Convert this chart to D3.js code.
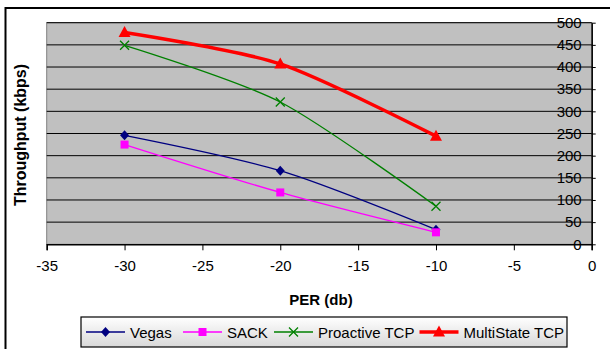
<!DOCTYPE html>
<html><head><meta charset="utf-8">
<script src="https://cdn.jsdelivr.net/npm/d3@7"></script>
<style>html,body{margin:0;padding:0;background:#fff;}svg{display:block;font-family:"Liberation Sans",Arial,sans-serif;}</style>
</head><body>
<svg id="c" width="610" height="349"></svg>
<script>
const xValues = [-30, -20, -10];
const vegas = [246, 166, 33];
const sack = [225, 117, 27];
const proactive = [449, 321, 86];
const multistate = [478, 407, 244];
const xTicks = [-35, -30, -25, -20, -15, -10, -5, 0];
const yTicks = [0, 50, 100, 150, 200, 250, 300, 350, 400, 450, 500];
const seriesNames = ["Vegas", "SACK", "Proactive TCP", "MultiState TCP"];

const series = [
  {name: seriesNames[0], values: vegas, color: "#000080", width: 1.3, marker: "diamond"},
  {name: seriesNames[1], values: sack, color: "#FF00FF", width: 1.3, marker: "square"},
  {name: seriesNames[2], values: proactive, color: "#008000", width: 1.3, marker: "x"},
  {name: seriesNames[3], values: multistate, color: "#FF0000", width: 3.5, marker: "triangle"}
];

const svg = d3.select("#c");
const L = 46.7, R = 591.7, T = 22.7, B = 244.3;
const x = d3.scaleLinear().domain([-35, 0]).range([L, R]);
const y = d3.scaleLinear().domain([0, 500]).range([B, T]);
const fmt = d => String(d);

// outer frame
svg.append("rect").attr("x", 5.5).attr("y", 8).attr("width", 620).attr("height", 360)
  .attr("fill", "#fff").attr("stroke", "#000").attr("stroke-width", 2);

// plot area
svg.append("rect").attr("x", L).attr("y", T).attr("width", R - L).attr("height", B - T)
  .attr("fill", "#C0C0C0").attr("stroke", "#808080").attr("stroke-width", 1);

// gridlines
svg.append("g").selectAll("line").data(yTicks.filter(d => d > 0)).join("line")
  .attr("x1", L).attr("x2", R).attr("y1", d => y(d)).attr("y2", d => y(d))
  .attr("stroke", "#000").attr("stroke-width", 1);

// x axis
const xAxis = svg.append("g").attr("transform", `translate(0,${B})`)
  .call(d3.axisBottom(x).tickValues(xTicks).tickSize(6).tickPadding(10).tickFormat(fmt));
xAxis.select(".domain").attr("stroke", "#000").attr("stroke-width", 1.5);
xAxis.selectAll(".tick line").attr("stroke", "#000");
xAxis.selectAll("text").attr("font-size", 15).attr("fill", "#000")
  .attr("font-family", "Liberation Sans, Arial, sans-serif");

// y axis at right (x = 0), labels drawn inside to the left
const yAxis = svg.append("g").attr("transform", `translate(${R},0)`)
  .call(d3.axisRight(y).tickValues(yTicks).tickSize(4).tickSizeOuter(0).tickFormat(fmt));
yAxis.select(".domain").attr("stroke", "#000").attr("stroke-width", 1.5);
yAxis.selectAll(".tick line").attr("stroke", "#000");
yAxis.selectAll("text").attr("font-size", 15).attr("fill", "#000")
  .attr("text-anchor", "end").attr("x", -10)
  .attr("font-family", "Liberation Sans, Arial, sans-serif");

// axis titles
svg.append("text").attr("x", 321).attr("y", 305).attr("text-anchor", "middle")
  .attr("font-size", 15).attr("font-weight", "bold").text("PER (db)");
svg.append("text").attr("transform", "translate(26,135) rotate(-90)").attr("text-anchor", "middle")
  .attr("font-size", 16).attr("font-weight", "bold").text("Throughput (kbps)");

// markers
function drawMarker(g, type, color, cx, cy) {
  if (type === "diamond") {
    g.append("path").attr("d", `M${cx},${cy-5}L${cx+4.5},${cy}L${cx},${cy+5}L${cx-4.5},${cy}Z`).attr("fill", color);
  } else if (type === "square") {
    g.append("rect").attr("x", cx-4).attr("y", cy-4).attr("width", 8).attr("height", 8).attr("fill", color);
  } else if (type === "x") {
    g.append("path").attr("d", `M${cx-4.5},${cy-4.5}L${cx+4.5},${cy+4.5}M${cx-4.5},${cy+4.5}L${cx+4.5},${cy-4.5}`)
      .attr("stroke", color).attr("stroke-width", 1.3);
  } else if (type === "triangle") {
    g.append("path").attr("d", `M${cx},${cy-6.5}L${cx+6},${cy+4.5}L${cx-6},${cy+4.5}Z`).attr("fill", color);
  }
}

const line = d3.line().x(d => x(d[0])).y(d => y(d[1])).curve(d3.curveCardinal.tension(0.2));
series.forEach(s => {
  const pts = xValues.map((xv, i) => [xv, s.values[i]]);
  svg.append("path").datum(pts).attr("d", line).attr("fill", "none")
    .attr("stroke", s.color).attr("stroke-width", s.width).attr("stroke-linejoin", "round");
  const g = svg.append("g");
  pts.forEach(p => drawMarker(g, s.marker, s.color, x(p[0]), y(p[1])));
});

// legend
const defs = svg.append("defs");
const grad = defs.append("linearGradient").attr("id", "lg").attr("x1", 0).attr("y1", 0).attr("x2", 0).attr("y2", 1);
grad.append("stop").attr("offset", "0%").attr("stop-color", "#ffffff");
grad.append("stop").attr("offset", "100%").attr("stop-color", "#d8d8d8");
svg.append("rect").attr("x", 81).attr("y", 317).attr("width", 486).attr("height", 30)
  .attr("fill", "url(#lg)").attr("stroke", "#000").attr("stroke-width", 1.2);
const legX = [86, 183, 274, 419.5];
const legY = 332;
series.forEach((s, i) => {
  const g = svg.append("g");
  g.append("line").attr("x1", legX[i]).attr("x2", legX[i] + 39).attr("y1", legY).attr("y2", legY)
    .attr("stroke", s.color).attr("stroke-width", s.width);
  drawMarker(g, s.marker, s.color, legX[i] + 19.5, legY);
  g.append("text").attr("x", legX[i] + 44).attr("y", legY + 5.5).attr("font-size", 15)
    .attr("fill", "#000").text(s.name);
});
</script>
</body></html>
